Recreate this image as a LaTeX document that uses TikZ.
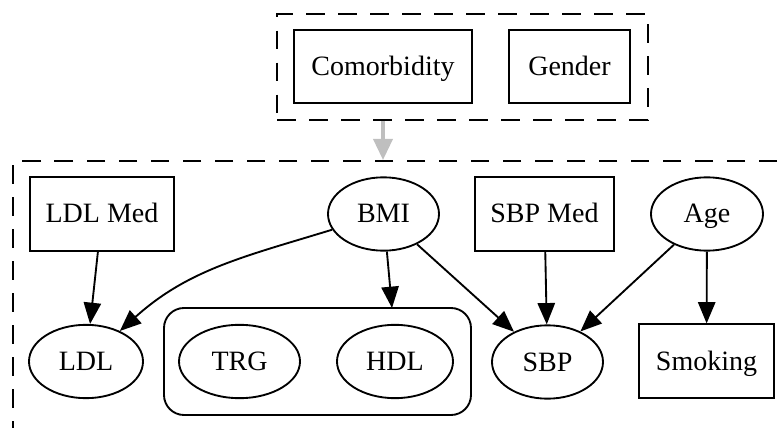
\documentclass[tikz,border=0pt]{standalone}
\usepackage{fontspec}
\setmainfont{Liberation Serif}
\usetikzlibrary{arrows.meta,shapes.geometric}

\begin{document}
\begin{tikzpicture}[x=0.75pt,y=-0.75pt,
    font=\fontsize{21}{25}\selectfont,
    var/.style={ellipse,draw,line width=1.4pt,minimum height=55pt,inner sep=0pt,text height=15pt,text depth=1.5pt},
    box/.style={rectangle,draw,line width=1.4pt,minimum height=55pt,text height=15pt,text depth=1.5pt},
    cluster/.style={rectangle,draw,line width=1.4pt,dash pattern=on 14pt off 10pt},
    group/.style={rectangle,draw,line width=1.4pt,rounded corners=15pt},
    >={Triangle[length=16pt,width=13pt]}]
    \useasboundingbox (0,0) rectangle (783,428);
    \begin{scope}
      \clip (0,0) rectangle (783,428);
      \node(measured)[cluster,minimum width=590pt,minimum height=209pt] at (406.5,300.5) {};
    \end{scope}
    \node(background)[cluster,minimum width=278pt,minimum height=79.5pt] at (462.5,67) {};

    \node(comorbidity)[box,minimum width=133.5pt] at (383,66.5) {Comorbidity};
    \node(gender)[box,minimum width=90.75pt] at (569.5,66.5) {Gender};

    \node(ldlmed)[box,minimum width=108pt] at (102,214) {LDL Med};
    \node(bmi)[var,minimum width=83.25pt] at (383.5,214) {BMI};
    \node(sbpmed)[box,minimum width=104.25pt] at (544.5,214) {SBP Med};
    \node(age)[var,minimum width=84pt] at (707,214) {Age};

    \node(ldl)[var,minimum width=85.5pt] at (86,361.5) {LDL};
    \node(grp)[group,minimum width=230.25pt,minimum height=80.25pt] at (317.5,361.5) {};
    \node(trg)[var,minimum width=90.75pt] at (239.5,361.5) {TRG};
    \node(hdl)[var,minimum width=87pt] at (395,361.5) {HDL};
    \node(sbp)[var,minimum width=83.25pt] at (547.5,362) {SBP};
    \node(smoking)[box,minimum width=101.25pt] at (706.5,361) {Smoking};
    \coordinate(grptop) at (392,308);

    \draw[-{Triangle[length=16pt,width=14pt]},line width=3.5pt,black!25]
      (comorbidity.south |- background.south) -- (comorbidity.south |- measured.north);

    \path[->,line width=1.4pt]
    (ldlmed) edge (ldl)
    (bmi) edge[out=197,in=42] (ldl)
    (bmi) edge (grptop)
    (bmi) edge (sbp)
    (sbpmed) edge (sbp)
    (age) edge (sbp)
    (age) edge (smoking);
  \end{tikzpicture}
\end{document}
